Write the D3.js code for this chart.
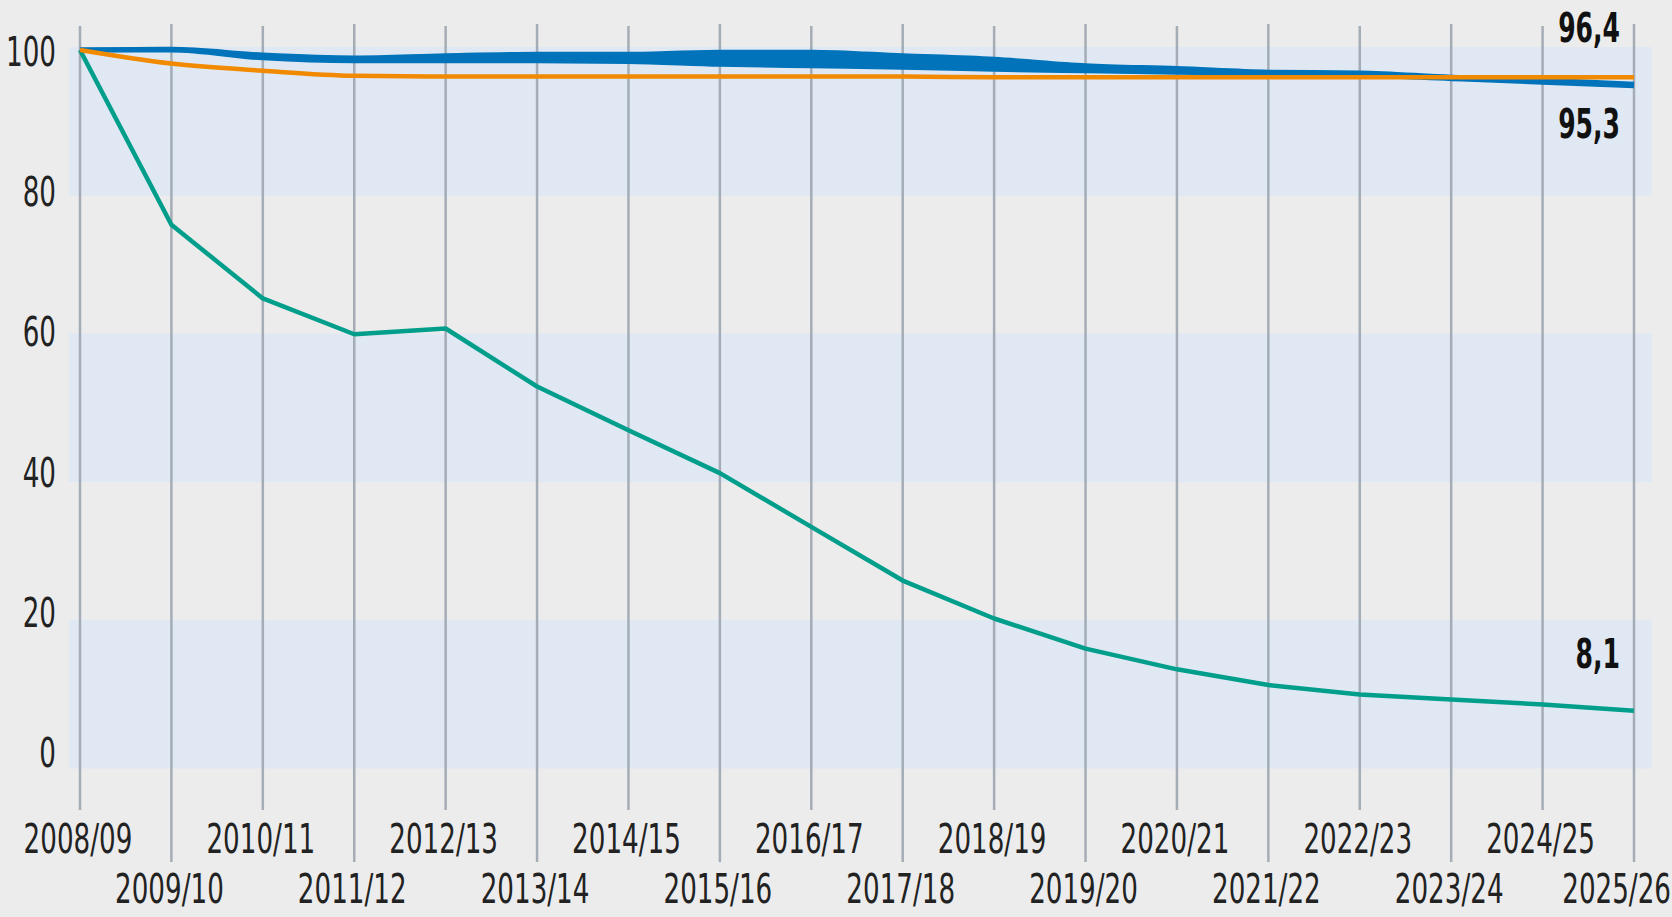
<!DOCTYPE html>
<html>
<head>
<meta charset="utf-8">
<script src="https://cdn.jsdelivr.net/npm/d3@7"></script>
<style>
    body { margin: 0; background: #ececec; }
    svg { display: block; }
    text { font-family: "Liberation Sans Narrow", "DejaVu Sans Condensed", sans-serif; fill: #222; }
</style>
</head>
<body>
<div id="draw-area"></div>
<script>
// Schuljahre
var years = ['2008/09', '2009/10', '2010/11', '2011/12', '2012/13', '2013/14', '2014/15', '2015/16', '2016/17',
    '2017/18', '2018/19', '2019/20', '2020/21', '2021/22', '2022/23', '2023/24', '2024/25', '2025/26'];
// Index, 2008/09 = 100
var tealValues = [100, 75.6, 65.3, 60.3, 61.1, 53.0, 46.9, 40.9, 33.4, 25.9, 20.6, 16.4, 13.5, 11.3, 10.0, 9.3, 8.6, 7.7];
var orangeValues = [100, 98.1, 97.1, 96.4, 96.3, 96.3, 96.3, 96.3, 96.3, 96.3, 96.2, 96.2, 96.2, 96.2, 96.2, 96.2, 96.2, 96.2];
var blueValues1 = [100, 100.1, 99.3, 98.9, 99.2, 99.4, 99.4, 99.7, 99.7, 99.2, 98.7, 97.8, 97.4, 96.9, 96.8, 96.2, 95.8, 95.2];
var blueValues2 = [100, 100, 98.9, 98.5, 98.5, 98.5, 98.4, 98.0, 97.8, 97.6, 97.3, 97.1, 96.9, 96.7, 96.5, 96.0, 95.5, 95.0];
var yTicks = [0, 20, 40, 60, 80, 100];
var bandStarts = [0, 40, 80];
var endLabels = ['96,4', '95,3', '8,1'];

(function () {
    let width = 1672, height = 917;
    let textScale = 0.71;

    let svg = d3.select('#draw-area').append('svg')
        .attr('width', width)
        .attr('height', height);

    svg.append('rect').attr('width', width).attr('height', height).attr('fill', '#ececec');

    let x = d3.scalePoint().domain(years).range([80, 1634]);
    let y = d3.scaleLinear().domain([0, 100]).range([766, 50]);
    // tick labels sit on a slightly tighter grid than the bands
    let yLabel = d3.scaleLinear().domain([0, 100]).range([752, 51]);

    //Bänder
    svg.selectAll('rect.band')
        .data(bandStarts)
        .enter()
        .append('rect')
        .attr('class', 'band')
        .attr('x', 69)
        .attr('width', 1652 - 69)
        .attr('y', d => y(d + 20) - 3)
        .attr('height', d => y(d) - y(d + 20) + 5.5)
        .attr('fill', '#dfe8f3');

    //senkrechte Linien
    svg.selectAll('line.grid')
        .data(years)
        .enter()
        .append('line')
        .attr('class', 'grid')
        .attr('x1', d => x(d)).attr('x2', d => x(d))
        .attr('y1', (d, i) => i % 2 ? 24 : 26)
        .attr('y2', (d, i) => i % 2 ? 862 : 810)
        .attr('stroke', '#a4adb6')
        .attr('stroke-width', 2.5);

    //Linien
    let line = d3.line()
        .x((d, i) => x(years[i]))
        .y(d => y(d));
    let smooth = d3.line()
        .x((d, i) => x(years[i]))
        .y(d => y(d))
        .curve(d3.curveMonotoneX);

    svg.append('path')
        .attr('d', line(tealValues))
        .attr('fill', 'none')
        .attr('stroke', '#009e8b')
        .attr('stroke-width', 4.5)
        .attr('stroke-linejoin', 'round');

    // die beiden blauen Reihen liegen fast aufeinander -> Fläche dazwischen füllen
    let blueBand = d3.area()
        .x((d, i) => x(years[i]))
        .y0((d, i) => y(blueValues2[i]))
        .y1(d => y(d))
        .curve(d3.curveMonotoneX);
    svg.append('path')
        .attr('d', blueBand(blueValues1))
        .attr('fill', '#0073ba');

    svg.selectAll('path.blue')
        .data([blueValues1, blueValues2])
        .enter()
        .append('path')
        .attr('class', 'blue')
        .attr('d', d => smooth(d))
        .attr('fill', 'none')
        .attr('stroke', '#0073ba')
        .attr('stroke-width', 5);

    svg.append('path')
        .attr('d', smooth(orangeValues))
        .attr('fill', 'none')
        .attr('stroke', '#f18a00')
        .attr('stroke-width', 4.5);

    //Y Beschriftung
    svg.selectAll('text.ytick')
        .data(yTicks)
        .enter()
        .append('text')
        .attr('class', 'ytick')
        .attr('transform', d => `translate(56,${yLabel(d) + 15}) scale(${textScale},1)`)
        .attr('text-anchor', 'end')
        .attr('font-size', 41)
        .text(d => d);

    //X Beschriftung (letzte bündig am rechten Rand)
    let lastIdx = years.length - 1;
    svg.selectAll('text.xtick')
        .data(years)
        .enter()
        .append('text')
        .attr('class', 'xtick')
        .attr('transform', (d, i) => `translate(${i == lastIdx ? width - 1 : x(d) - 2},${i % 2 ? 903 : 853}) scale(${textScale},1)`)
        .attr('text-anchor', (d, i) => i == lastIdx ? 'end' : 'middle')
        .attr('font-size', 41)
        .text(d => d);

    //Endwerte
    let last = years[lastIdx];
    let endY = [y(orangeValues[lastIdx]) - 35.5, y(blueValues2[lastIdx]) + 52, y(tealValues[lastIdx]) - 43];
    svg.selectAll('text.endlabel')
        .data(endLabels)
        .enter()
        .append('text')
        .attr('class', 'endlabel')
        .attr('transform', (d, i) => `translate(${x(last) - 14},${endY[i]}) scale(0.68,1)`)
        .attr('text-anchor', 'end')
        .attr('font-size', 41)
        .attr('font-weight', 'bold')
        .style('fill', '#111')
        .text(d => d);
})();
</script>
</body>
</html>
